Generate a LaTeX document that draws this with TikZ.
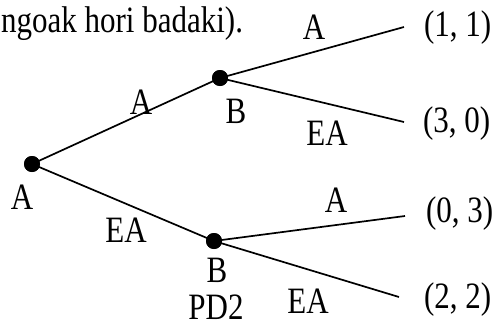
\documentclass[tikz,border=0pt]{standalone}
\usepackage{fontspec}
\usepackage{graphicx}
\setmainfont{Liberation Serif}
\newcommand{\tx}[1]{\scalebox{1}[1.2]{#1}}
\tikzset{
  lbl/.style={font=\fontsize{31}{37}\selectfont, inner sep=0pt, outer sep=0pt},
  dotnode/.style={circle, fill=black, inner sep=0pt, minimum size=16pt},
  edge/.style={line width=1.7pt, black}
}
\begin{document}
\begin{tikzpicture}[x=1pt,y=-1pt]
\useasboundingbox (0,0) rectangle (496,327);
% decision nodes
\node[dotnode] (r) at (32,164) {};
\node[dotnode] (u) at (220,78) {};
\node[dotnode] (l) at (214,241) {};
% leaf ends
\coordinate (c1) at (404,27);
\coordinate (c2) at (404,122);
\coordinate (c3) at (405,216);
\coordinate (c4) at (399,297);
% edges
\draw[edge] (r.center) -- (u.center);
\draw[edge] (r.center) -- (l.center);
\draw[edge] (u.center) -- (c1);
\draw[edge] (u.center) -- (c2);
\draw[edge] (l.center) -- (c3);
\draw[edge] (l.center) -- (c4);
\node[dotnode] at (r) {};
\node[dotnode] at (u) {};
\node[dotnode] at (l) {};
% top text
\node[lbl, anchor=base east] (top) at (243,32) {\tx{ngoak hori badaki).}};
% labels
\node[lbl] (la1) at (314,27) {\tx{A}};
\node[lbl] (la2) at (141,102) {\tx{A}};
\node[lbl] (lb1) at (236,111) {\tx{B}};
\node[lbl] (lea1) at (327,133) {\tx{EA}};
\node[lbl] (la0) at (22,197) {\tx{A}};
\node[lbl] (lea2) at (126,230) {\tx{EA}};
\node[lbl] (la3) at (336,200) {\tx{A}};
\node[lbl] (lb2) at (217,270) {\tx{B}};
\node[lbl] (lea3) at (308,301) {\tx{EA}};
\node[lbl] (pd) at (216,307) {\tx{PD2}};
% payoffs
\node[lbl, anchor=west] (p1) at (424,28) {\tx{(1, 1)}};
\node[lbl, anchor=west] (p2) at (423,124) {\tx{(3, 0)}};
\node[lbl, anchor=west] (p3) at (426,214) {\tx{(0, 3)}};
\node[lbl, anchor=west] (p4) at (424,300) {\tx{(2, 2)}};
\end{tikzpicture}
\end{document}
